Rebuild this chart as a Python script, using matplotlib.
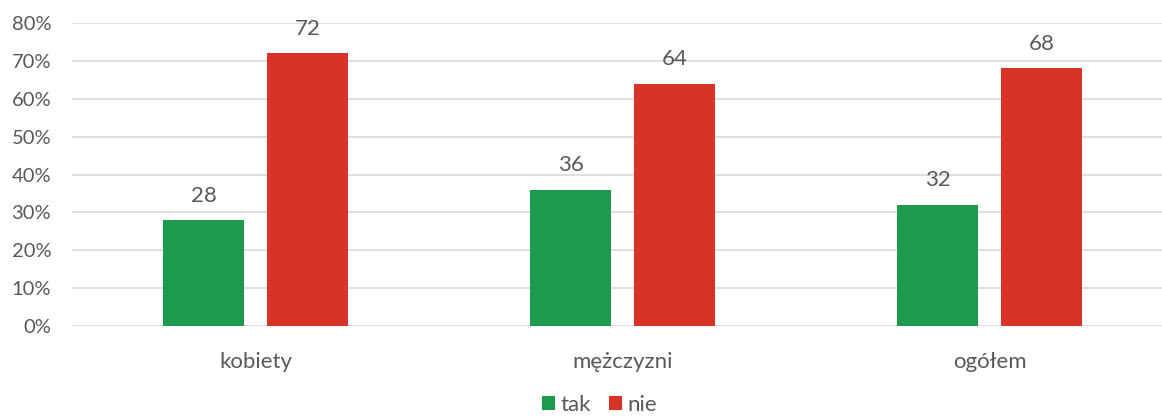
import numpy as np
import matplotlib.pyplot as plt

categories = ['kobiety', 'mężczyzni', 'ogółem']
tak = [28, 36, 32]
nie = [72, 64, 68]
series_names = ['tak', 'nie']
yticks = [0, 10, 20, 30, 40, 50, 60, 70, 80]

plt.rcParams['font.family'] = ['Lato', 'DejaVu Sans']
grey = '#595959'
green = '#1E9A4F'
red = '#D93328'

fig = plt.figure(figsize=(11.62, 4.18), dpi=100)
ax = fig.add_axes([72 / 1162, 92 / 418, (1162 - 72) / 1162, 303 / 418])

x = np.arange(len(categories))
w = 0.222
off = 0.141
b1 = ax.bar(x - off, tak, w, color=green, label=series_names[0], zorder=3)
b2 = ax.bar(x + off, nie, w, color=red, label=series_names[1], zorder=3)

for bars, vals in ((b1, tak), (b2, nie)):
    for rect, v in zip(bars, vals):
        ax.text(rect.get_x() + rect.get_width() / 2, v + 3.8, str(v),
                ha='center', va='bottom', fontsize=16, color=grey)

ax.set_xlim(-0.5, 2.47)
ax.set_ylim(0, 80)
ax.set_yticks(yticks)
ax.set_yticklabels([f'{t}%' for t in yticks])
ax.yaxis.grid(True, color='#D9D9D9', linewidth=1.2, zorder=0)
ax.set_xticks(x)
ax.set_xticklabels(categories)
ax.tick_params(axis='both', length=0, colors=grey)
ax.tick_params(axis='x', pad=19, labelsize=16)
ax.tick_params(axis='y', pad=15, labelsize=14.5)
for s in ax.spines.values():
    s.set_visible(False)

fig.legend(loc='lower center', bbox_to_anchor=(0.516, -0.04), ncol=2, frameon=False,
           fontsize=16, labelcolor=grey, handlelength=0.6, handleheight=0.6,
           handletextpad=0.25, columnspacing=0.8)

fig.savefig('out.png', dpi=100)
